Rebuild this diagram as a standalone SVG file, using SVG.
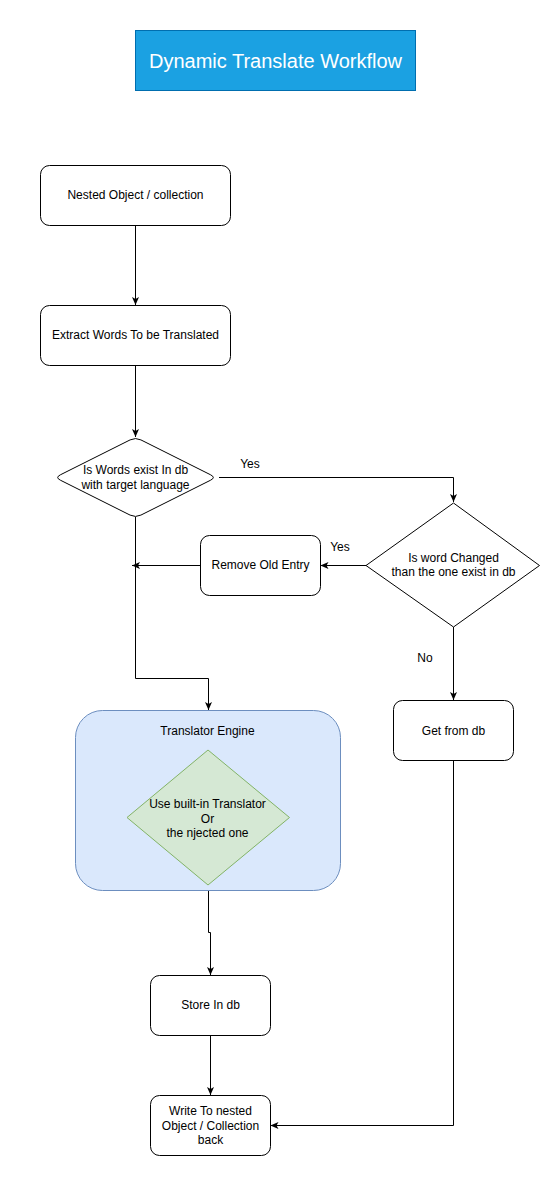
<svg xmlns="http://www.w3.org/2000/svg" width="540" height="1200" viewBox="0 0 540 1200">
<style>
text{font-family:"Liberation Sans",Arial,sans-serif;font-size:12px;fill:#000;text-anchor:middle}
.box{fill:#fff;stroke:#000;stroke-width:1}
.con{fill:none;stroke:#000;stroke-width:1}
.title{font-size:20px;fill:#fff}
</style>
<defs>
<marker id="arr" markerUnits="userSpaceOnUse" markerWidth="8" markerHeight="8" viewBox="0 0 8 8" refX="8" refY="4" orient="auto">
<path d="M0,0.5 L8,4 L0,7.5 L2,4 Z" fill="#000"/>
</marker>
</defs>
<rect width="540" height="1200" fill="#fff"/>
<g id="title">
<rect x="135.5" y="30.5" width="280" height="60" fill="#1ba1e2" stroke="#006eaf"/>
<text class="title" x="275.5" y="68">Dynamic Translate Workflow</text>
</g>
<g id="connectors">
<path class="con" d="M135.5,225 V305" marker-end="url(#arr)"/>
<path class="con" d="M135.5,365 V437" marker-end="url(#arr)"/>
<path class="con" d="M219,477.5 H453.5 V502" marker-end="url(#arr)"/>
<path class="con" d="M366,565.5 H320.5" marker-end="url(#arr)"/>
<path class="con" d="M200,565.5 H132" marker-end="url(#arr)"/>
<path class="con" d="M135.5,517 V678.5 H208.5 V710" marker-end="url(#arr)"/>
<path class="con" d="M453.5,627 V700" marker-end="url(#arr)"/>
<path class="con" d="M208.5,891 V932.5 H210.5 V975" marker-end="url(#arr)"/>
<path class="con" d="M210.5,1035 V1095" marker-end="url(#arr)"/>
<path class="con" d="M453.5,760 V1125.5 H270.5" marker-end="url(#arr)"/>
<text x="250" y="468">Yes</text>
<text x="340" y="551">Yes</text>
<text x="425" y="662">No</text>
</g>
<g id="nested">
<rect class="box" x="40.5" y="165.5" width="190" height="60" rx="9"/>
<text x="135.5" y="198.5">Nested Object / collection</text>
</g>
<g id="extract">
<rect class="box" x="40.5" y="305.5" width="190" height="60" rx="9"/>
<text x="135.5" y="338.5">Extract Words To be Translated</text>
</g>
<g id="exist">
<path class="box" d="M60.4,474.8 L130.1,439.9 Q135.5,437.2 140.9,439.9 L210.6,474.8 Q216,477.5 210.6,480.2 L140.9,515.1 Q135.5,517.8 130.1,515.1 L60.4,480.2 Q55,477.5 60.4,474.8 Z"/>
<text x="135.5" y="473.5">Is Words exist In db</text>
<text x="135.5" y="489">with target language</text>
</g>
<g id="changed">
<polygon class="box" points="366,565.5 453.5,503 539.5,565.5 453.5,627"/>
<text x="453.5" y="561.5">Is word Changed</text>
<text x="453.5" y="576">than the one exist in db</text>
</g>
<g id="remove">
<rect class="box" x="200.5" y="535.5" width="120" height="60" rx="9"/>
<text x="260.5" y="568.5">Remove Old Entry</text>
</g>
<g id="getdb">
<rect class="box" x="393.5" y="700.5" width="120" height="60" rx="9"/>
<text x="453.5" y="734.5">Get from db</text>
</g>
<g id="engine">
<rect x="75.5" y="710.5" width="265" height="180" rx="27" fill="#dae8fc" stroke="#6c8ebf"/>
<text x="207.5" y="734.5">Translator Engine</text>
</g>
<g id="translator">
<polygon points="127,817.5 208,750 289.5,817.5 208,885" fill="#d5e8d4" stroke="#82b366"/>
<text x="207.5" y="808">Use built-in Translator</text>
<text x="207.5" y="822.5">Or</text>
<text x="207.5" y="837">the njected one</text>
</g>
<g id="store">
<rect class="box" x="150.5" y="975.5" width="120" height="60" rx="9"/>
<text x="210.5" y="1009">Store In db</text>
</g>
<g id="write">
<rect class="box" x="150.5" y="1095.5" width="120" height="60" rx="9"/>
<text x="210.5" y="1115">Write To nested</text>
<text x="210.5" y="1129.5">Object / Collection</text>
<text x="210.5" y="1144">back</text>
</g>
</svg>
